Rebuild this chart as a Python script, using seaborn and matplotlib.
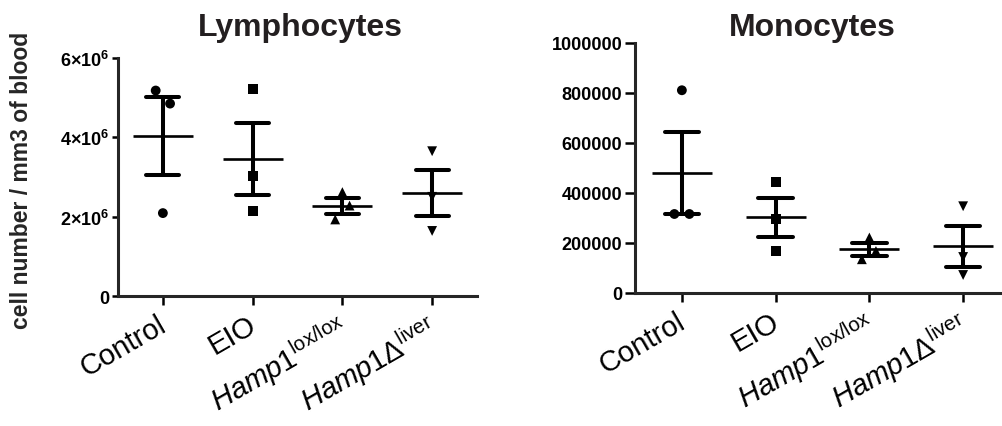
import numpy as np
import pandas as pd
import matplotlib
matplotlib.use('Agg')
from matplotlib import pyplot as plt
from matplotlib.transforms import ScaledTranslation
import seaborn as sns

# groups and tick labels
groups = ['Control', 'EIO', 'Hamp1 lox/lox', 'Hamp1 delta liver']
group_labels = ['Control', 'EIO',
                r'$\mathit{Hamp1}^{\mathrm{lox/lox}}$',
                r'$\mathit{Hamp1Δ}^{\mathrm{liver}}$']

# lymphocytes, cells / mm3 (3 mice per group)
lym_control = [5.18e6, 4.85e6, 2.09e6]
lym_eio = [5.21e6, 3.03e6, 2.15e6]
lym_lox = [2.62e6, 2.28e6, 1.93e6]
lym_delta = [3.65e6, 2.50e6, 1.64e6]

# monocytes, cells / mm3
mono_control = [811000, 316000, 316000]
mono_eio = [443000, 296000, 169000]
mono_lox = [222000, 168000, 135000]
mono_delta = [347000, 144000, 72000]

lym_yticks = [0, 2e6, 4e6, 6e6]
lym_yticklabels = ['0', r'$\mathbf{2×10}^{\mathbf{6}}$',
                   r'$\mathbf{4×10}^{\mathbf{6}}$', r'$\mathbf{6×10}^{\mathbf{6}}$']
mono_yticks = [0, 200000, 400000, 600000, 800000, 1000000]
mono_yticklabels = ['0', '200000', '400000', '600000', '800000', '1000000']

# horizontal spread of overlapping points (like prism's scatter)
lym_spread = [-0.08, 0.08, 0, 0, 0, 0, 0, 0.08, -0.08, 0, 0, 0]
mono_spread = [0, -0.08, 0.08, 0, 0, 0, 0, 0.07, -0.08, 0, 0, 0]

sns.set_style('ticks')
plt.rcParams['font.family'] = ['Liberation Sans', 'DejaVu Sans']
plt.rcParams['mathtext.fontset'] = 'custom'
plt.rcParams['mathtext.rm'] = 'Liberation Sans'
plt.rcParams['mathtext.it'] = 'Liberation Sans:italic'
plt.rcParams['mathtext.bf'] = 'Liberation Sans:bold'


def make_df(vals, spread):
    rows = []
    for g, v in zip(groups, vals):
        for x in v:
            rows.append((g, x))
    df = pd.DataFrame(rows, columns=['group', 'value'])
    df['code'] = df['group'].map({g: i for i, g in enumerate(groups)})
    df['xpos'] = df['code'] + np.array(spread)
    return df


lym = make_df([lym_control, lym_eio, lym_lox, lym_delta], lym_spread)
mono = make_df([mono_control, mono_eio, mono_lox, mono_delta], mono_spread)

marker_map = {'Control': 'o', 'EIO': 's', 'Hamp1 lox/lox': '^', 'Hamp1 delta liver': 'v'}

fig = plt.figure(figsize=(10.02, 4.27), dpi=100)
ax1 = fig.add_axes([118/1002, 130/427, 359/1002, 238/427])
ax2 = fig.add_axes([635/1002, 133/427, 375/1002, 250/427])


def panel(ax, df, yticks, yticklabels, ytl):
    sns.scatterplot(data=df, x='xpos', y='value', style='group', markers=marker_map,
                    color='black', s=50, linewidth=0, legend=False, ax=ax, zorder=2)
    sns.pointplot(data=df, x='code', y='value', errorbar='se', capsize=0.37,
                  linestyle='none', marker='_', markersize=43, markeredgewidth=1.9,
                  color='black', err_kws={'linewidth': 2.9}, ax=ax, zorder=3)
    ax.set_xlim(-0.5, 3.5)
    ax.set_ylim(0, yticks[-1])
    ax.set_xticks(range(4))
    ax.set_xticklabels(group_labels, rotation=30, ha='right', va='top',
                       rotation_mode='anchor', fontsize=21)
    ax.set_yticks(yticks)
    ax.set_yticklabels(yticklabels, fontsize=13, fontweight='bold')
    ax.set_xlabel('')
    ax.set_ylabel('')
    for s in ['left', 'bottom']:
        ax.spines[s].set_linewidth(2.2)
    sns.despine(ax=ax)
    ax.tick_params(axis='x', length=6.5, width=1.8, pad=3.5, colors='black')
    ax.tick_params(axis='y', length=ytl, width=1.8, pad=2, colors='black')
    off = ScaledTranslation(-6/100, 0, fig.dpi_scale_trans)
    for lab in ax.get_xticklabels():
        lab.set_transform(lab.get_transform() + off)


panel(ax1, lym, lym_yticks, lym_yticklabels, 4.5)
panel(ax2, mono, mono_yticks, mono_yticklabels, 7)

ax1.set_ylabel('cell number / mm3 of blood', fontsize=16.5, fontweight='bold')
ax1.yaxis.set_label_coords(-0.237, 0.49)

fig.text(300/1002, 1 - 28/427, 'Lymphocytes', ha='center', va='center',
         fontsize=23, fontweight='bold', color='#231f20')
fig.text(812/1002, 1 - 28/427, 'Monocytes', ha='center', va='center',
         fontsize=23, fontweight='bold', color='#231f20')

fig.savefig('out.png', dpi=100)
